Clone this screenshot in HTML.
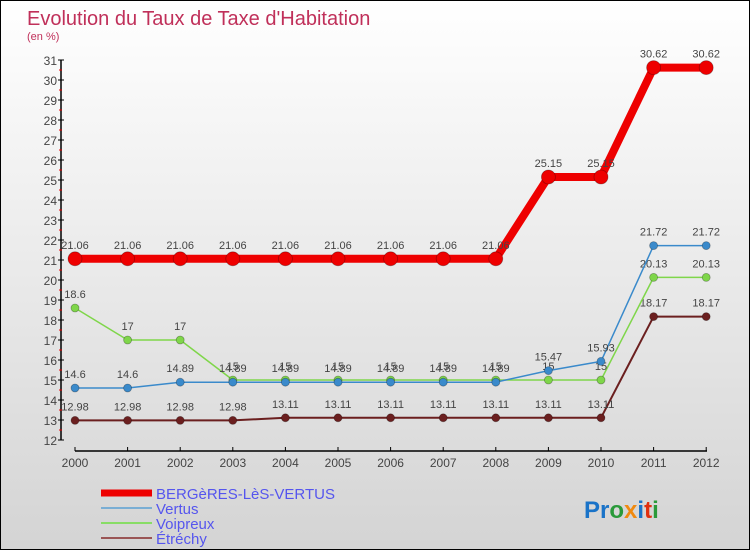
<!DOCTYPE html>
<html><head><meta charset="utf-8"><style>
body{margin:0;}
#wrap{position:relative;width:748px;height:548px;border:1px solid #000;background:linear-gradient(#fff,#d4d4d4);font-family:"Liberation Sans",sans-serif;overflow:hidden}
svg text{font-family:"Liberation Sans",sans-serif}
</style></head><body>
<div id="wrap">
<svg id="s" width="748" height="548">
<text x="26" y="24" font-size="20" fill="#c0305a">Evolution du Taux de Taxe d'Habitation</text>
<text x="26" y="39" font-size="11" fill="#c0305a">(en %)</text>
<g id="axes"></g><g id="series"></g><g id="legend"></g>
<text x="583" y="517" font-size="24" font-weight="bold"><tspan fill="#1a73c8">Pr</tspan><tspan fill="#2a9a3a">o</tspan><tspan fill="#f08a10">x</tspan><tspan fill="#1a73c8">i</tspan><tspan fill="#e03010">t</tspan><tspan fill="#2a9a3a">i</tspan></text>
</svg></div>
<script>
const years=[2000,2001,2002,2003,2004,2005,2006,2007,2008,2009,2010,2011,2012];
const berg=[21.06,21.06,21.06,21.06,21.06,21.06,21.06,21.06,21.06,25.15,25.15,30.62,30.62];
const vertus=[14.6,14.6,14.89,14.89,14.89,14.89,14.89,14.89,14.89,15.47,15.93,21.72,21.72];
const voipreux=[18.6,17,17,15,15,15,15,15,15,15,15,20.13,20.13];
const etrechy=[12.98,12.98,12.98,12.98,13.11,13.11,13.11,13.11,13.11,13.11,13.11,18.17,18.17];
const yTicks=[12,13,14,15,16,17,18,19,20,21,22,23,24,25,26,27,28,29,30,31];
const NS="http://www.w3.org/2000/svg";
const X=i=>74+i*52.6, Y=v=>439-(v-12)*20;
function mk(t,a,p){const e=document.createElementNS(NS,t);for(const k in a)e.setAttribute(k,a[k]);p.appendChild(e);return e;}
const ax=document.getElementById('axes');
let l=mk('line',{x1:60,y1:59,x2:60,y2:439,stroke:'#000','stroke-width':1.5},ax);


l=mk('line',{x1:74,y1:450,x2:706,y2:450,stroke:'#000','stroke-width':1.5},ax);


yTicks.forEach(v=>{
 mk('line',{x1:57,x2:63,y1:Y(v),y2:Y(v),stroke:'#000'},ax);
 if(v<31)mk('line',{x1:58,x2:61,y1:Y(v+0.5),y2:Y(v+0.5),stroke:'#e00'},ax);
 const t=mk('text',{x:56,y:Y(v)+5,'text-anchor':'end','font-size':12,fill:'#444'},ax);t.textContent=v;
 
 
});
years.forEach((y,i)=>{
 mk('line',{x1:X(i),x2:X(i),y1:446,y2:450,stroke:'#000'},ax);
 const t=mk('text',{x:X(i),y:466,'text-anchor':'middle','font-size':12,fill:'#444'},ax);t.textContent=y;
 
 
});
const sg=document.getElementById('series');
function series(vals,color,w,r,name,fmt){
 const g=mk('g',{},sg);
 
 
 mk('polyline',{points:vals.map((v,i)=>X(i)+','+Y(v)).join(' '),fill:'none',stroke:color,'stroke-width':w,'stroke-linejoin':'round'},g);
 vals.forEach((v,i)=>{
  const c=mk('circle',{cx:X(i),cy:Y(v),r:r,fill:color,stroke:'rgba(0,0,0,0.3)','stroke-width':0.8},g);
  
  
  const t=mk('text',{x:X(i),y:Y(v)-10,'text-anchor':'middle','font-size':11,fill:'#444'},g);t.textContent=String(v);
 });
}
series(etrechy,'#6b1f1f',2,4,'etrechy');
series(voipreux,'#7fd64a',1.5,4,'voipreux');
series(vertus,'#3a8acb',1.5,4,'vertus');
series(berg,'#ee0000',8,7,'bergeres');
const lg=document.getElementById('legend');
[['BERGèRES-LèS-VERTUS','#ee0000',7],['Vertus','#7aaed4',2],['Voipreux','#88dd66',2],['Étréchy','#9a5555',2]].forEach((d,i)=>{
 const y=492+i*15;
 const g=mk('g',{},lg);
 
 
 mk('line',{x1:100,x2:151,y1:y,y2:y,stroke:d[1],'stroke-width':d[2]},g);
 const t=mk('text',{x:155,y:y+6,'font-size':15,fill:'#5555ee'},g);t.textContent=d[0];
});
</script></body></html>
